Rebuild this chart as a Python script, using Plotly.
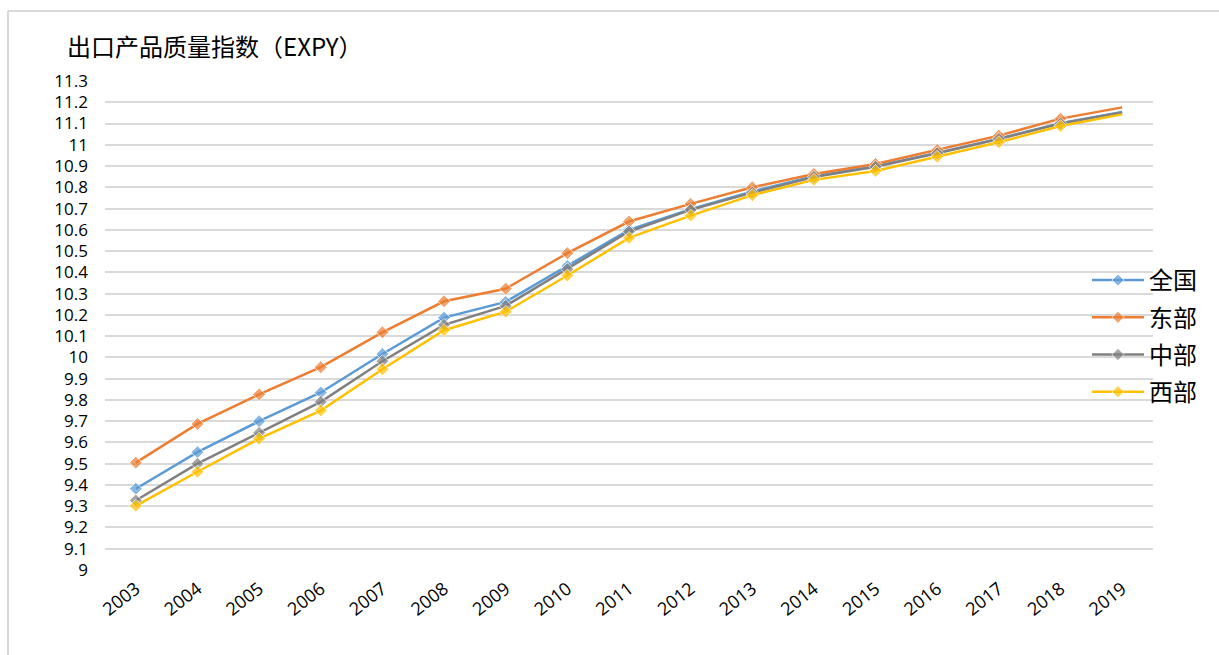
import plotly.graph_objects as go

# Export product quality index (EXPY) by region, 2003-2019
years = [str(y) for y in range(2003, 2020)]

national = [9.382, 9.554, 9.700, 9.835, 10.016, 10.187, 10.261, 10.430, 10.600, 10.697,
            10.780, 10.852, 10.899, 10.962, 11.029, 11.102, 11.154]
east = [9.505, 9.687, 9.826, 9.954, 10.118, 10.264, 10.323, 10.490, 10.639, 10.722,
        10.800, 10.863, 10.910, 10.976, 11.043, 11.123, 11.176]
central = [9.327, 9.500, 9.645, 9.791, 9.982, 10.153, 10.242, 10.415, 10.592, 10.694,
           10.775, 10.848, 10.897, 10.960, 11.027, 11.100, 11.152]
west = [9.302, 9.462, 9.618, 9.750, 9.944, 10.128, 10.215, 10.385, 10.562, 10.667,
        10.763, 10.835, 10.877, 10.944, 11.012, 11.088, 11.143]

series_names = ["全国", "东部", "中部", "西部"]
series_values = [national, east, central, west]
series_colors = ["#5B9BD5", "#ED7D31", "#808080", "#FFC000"]

y_ticks = [round(9 + 0.1 * i, 1) for i in range(24)]
y_tick_text = [("%g" % v) for v in y_ticks]

# plot area in pixels (used to place frame and labels outside the axes)
W, H = 1219, 655
L, R, T, B = 105, 66, 81, 85
pw, ph = W - L - R, H - T - B


def px_x(x):
    return (x - L) / pw


def px_y(y):
    return (H - B - y) / ph


fig = go.Figure()
for name, vals, color in zip(series_names, series_values, series_colors):
    sizes = [10] * (len(vals) - 1) + [0]
    fig.add_trace(go.Scatter(
        x=years, y=vals, name=name, legendgroup=name, mode="lines+markers",
        line=dict(color=color, width=2.5),
        marker=dict(symbol="diamond", size=sizes, color=color),
    ))

# outer chart frame (left and top edges)
fig.add_shape(type="line", xref="paper", yref="paper",
              x0=px_x(8), x1=px_x(8), y0=px_y(11), y1=px_y(H + 5),
              line=dict(color="#D9D9D9", width=2))
fig.add_shape(type="line", xref="paper", yref="paper",
              x0=px_x(8), x1=px_x(W + 5), y0=px_y(11), y1=px_y(11),
              line=dict(color="#D9D9D9", width=2))

fig.update_layout(
    width=W, height=H,
    margin=dict(l=L, r=R, t=T, b=B),
    paper_bgcolor="white", plot_bgcolor="white",
    font=dict(family="Open Sans, Noto Sans CJK SC", color="#000000"),
    title=dict(text="出口产品质量指数（EXPY）", x=67 / W, xanchor="left",
               y=1 - 48 / H, yanchor="middle",
               font=dict(size=24, family="Noto Sans CJK SC", color="#000000")),
    xaxis=dict(type="category", range=[-0.5, len(years) - 0.5], tickangle=-38,
               tickfont=dict(size=18), showgrid=False, showline=False,
               ticks="", zeroline=False, ticklabelstandoff=4),
    yaxis=dict(range=[9, 11.3], tickvals=y_ticks, ticktext=y_tick_text,
               tickfont=dict(size=17), showgrid=True, gridcolor="#D9D9D9",
               gridwidth=1.5, zeroline=False, showline=False, ticks="",
               ticklabelstandoff=16),
    legend=dict(x=px_x(1087), xanchor="left", y=px_y(258), yanchor="top",
                bgcolor="rgba(0,0,0,0)", tracegroupgap=3,
                font=dict(size=24, family="Noto Sans CJK SC", color="#000000"),
                itemwidth=52),
    showlegend=True,
)

fig.write_html("out.html")
